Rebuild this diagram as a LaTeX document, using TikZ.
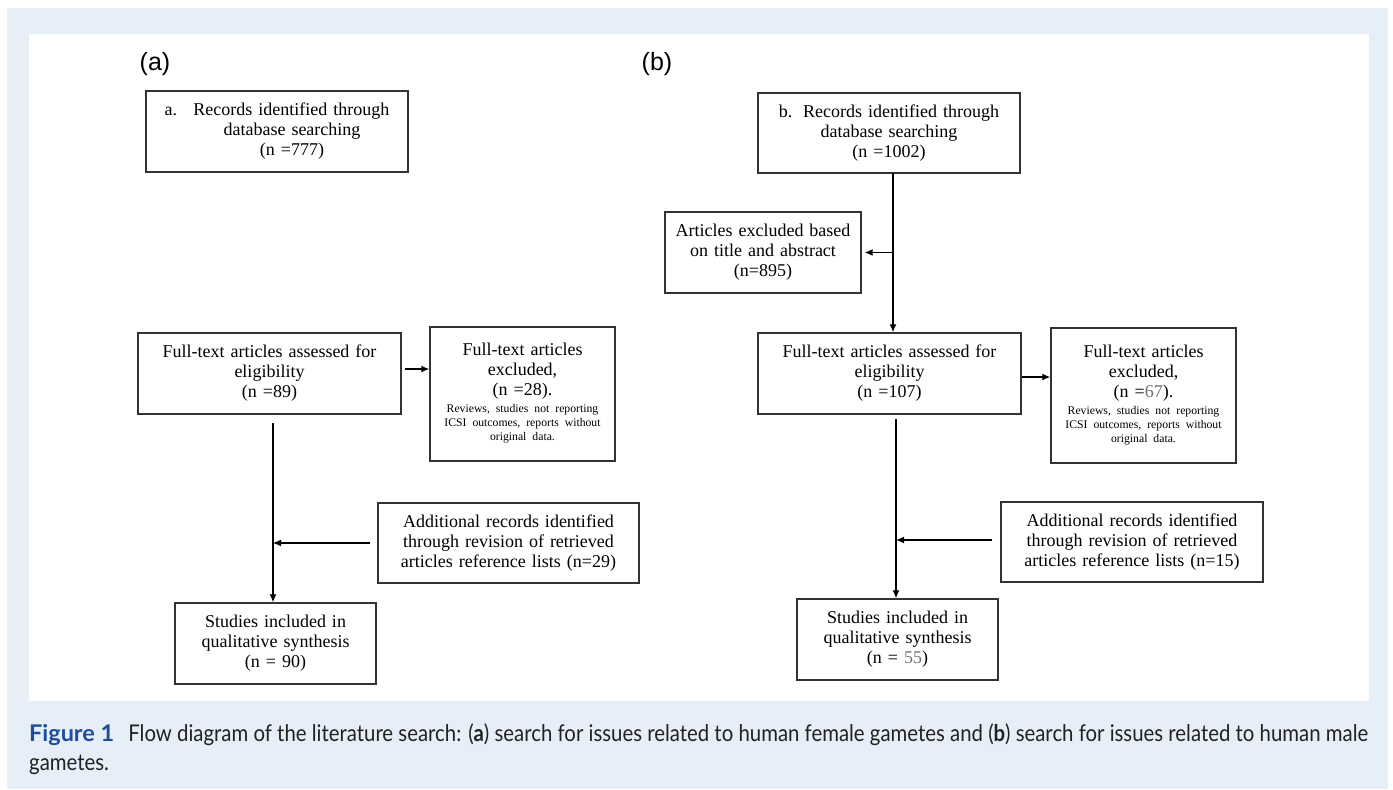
\documentclass[tikz,border=0pt]{standalone}
\usepackage{fontspec}
\usepackage{graphicx}
\setmainfont{Liberation Serif}
\newfontfamily\arialf{Liberation Sans}
\newfontfamily\capf{Lato}
\usetikzlibrary{arrows.meta}
\definecolor{bgblue}{HTML}{E6EEF8}
\definecolor{figblue}{HTML}{1F4E9B}
\definecolor{boxline}{HTML}{333333}
\definecolor{numgray}{HTML}{707070}
\definecolor{captext}{HTML}{222222}
\tikzset{
  fbox/.style={draw=boxline, line width=1.4pt, fill=white, align=center, inner sep=0pt,
    font=\fontsize{18}{20}\selectfont},
  arr/.style={draw=black, line width=1.3pt, -{Latex[length=8pt,width=7pt]}},
  lab/.style={font=\arialf\fontsize{25}{28}\selectfont, inner sep=0pt}
}
\newcommand{\smalltxt}{\fontsize{11.7}{14}\selectfont}
\newcommand{\exclnote}{{\smalltxt\begin{tabular}[t]{@{}c@{}}Reviews, studies not reporting\\ICSI outcomes, reports without\\original data.\end{tabular}}}
\begin{document}
\begin{tikzpicture}[x=1pt,y=-1pt]
\useasboundingbox (0,0) rectangle (1393,790);
\fill[white] (0,0) rectangle (1393,790);
\fill[bgblue] (7,8) rectangle (1388,789);
\fill[white] (29,34) rectangle (1369,701);

% labels
\node[lab] (la) at (155,64) {(a)};
\node[lab] (lb) at (657,64) {(b)};

% panel a
\node[fbox, minimum width=262pt, minimum height=81pt, text width=250pt] (a1) at (277,131.5)
  {a.\hspace{0.9em}Records identified through\\\hspace*{30pt}database searching\\\hspace*{30pt}(n =777)};
\node[fbox, minimum width=263pt, minimum height=81pt, text width=250pt] (a2) at (269.5,373.5)
  {Full-text articles assessed for\\eligibility\\(n =89)};
\node[fbox, minimum width=185pt, minimum height=134pt, text width=175pt] (a3) at (522.5,394)
  {Full-text articles\\excluded,\\(n =28).\\[-3pt]\exclnote};
\node[fbox, minimum width=261pt, minimum height=80pt, text width=255pt] (a4) at (508.5,543)
  {Additional records identified\\through revision of retrieved\\articles reference lists (n=29)};
\node[fbox, minimum width=201pt, minimum height=81pt, text width=195pt] (a5) at (275.5,643.5)
  {Studies included in\\qualitative synthesis\\(n = 90)};

\coordinate (as) at (273,423);
\draw[arr] (as) -- (as |- a5.north);
\draw[arr] ([xshift=3pt,yshift=4.5pt]a2.east) -- ([yshift=4.5pt]a2.east -| a3.west);
\draw[arr] ([xshift=-7pt]a4.west) -- (a4.west -| as);

% panel b
\node[fbox, minimum width=262pt, minimum height=80pt, text width=250pt] (b1) at (889,133)
  {b.\hspace{0.6em}Records identified through\\database searching\\(n =1002)};
\node[fbox, minimum width=196pt, minimum height=81pt, text width=190pt] (b6) at (763,252.5)
  {Articles excluded based\\on title and abstract\\(n=895)};
\node[fbox, minimum width=263pt, minimum height=81pt, text width=250pt] (b2) at (889.5,373.5)
  {Full-text articles assessed for\\eligibility\\(n =107)};
\node[fbox, minimum width=185pt, minimum height=135pt, text width=175pt] (b3) at (1143.5,395.5)
  {Full-text articles\\excluded,\\(n =\textcolor{numgray}{67}).\\[-3pt]\exclnote};
\node[fbox, minimum width=262pt, minimum height=80pt, text width=255pt] (b4) at (1132,542)
  {Additional records identified\\through revision of retrieved\\articles reference lists (n=15)};
\node[fbox, minimum width=201pt, minimum height=81pt, text width=195pt] (b5) at (897.5,639.5)
  {Studies included in\\qualitative synthesis\\(n = \textcolor{numgray}{55})};

\coordinate (bt) at (893,173);
\draw[arr] (bt) -- (bt |- b2.north);
\draw[arr] (b6.east -| bt) -- ([xshift=3pt]b6.east);
\draw[arr] ([yshift=-3.5pt]b2.east) -- ([yshift=-3.5pt]b2.east -| b3.west);
\coordinate (bs) at (896,419);
\draw[arr] (bs) -- (bs |- b5.north);
\draw[arr] ([xshift=-8pt,yshift=2pt]b4.west) -- ([yshift=2pt]b4.west -| bs);

% caption
\node[anchor=base west, inner sep=0pt, text=captext] (cap) at (29,741)
  {\resizebox{1339pt}{\height}{\capf\fontsize{23}{29}\selectfont\begin{tabular}[t]{@{}l@{}}%
  {\color{figblue}\scalebox{1.15}[1]{\bfseries Figure 1}}\hspace{0.7em}Flow diagram of the literature search: ({\bfseries a}) search for issues related to human female gametes and ({\bfseries b}) search for issues related to human male\\
  gametes.\end{tabular}}};
\end{tikzpicture}
\end{document}
